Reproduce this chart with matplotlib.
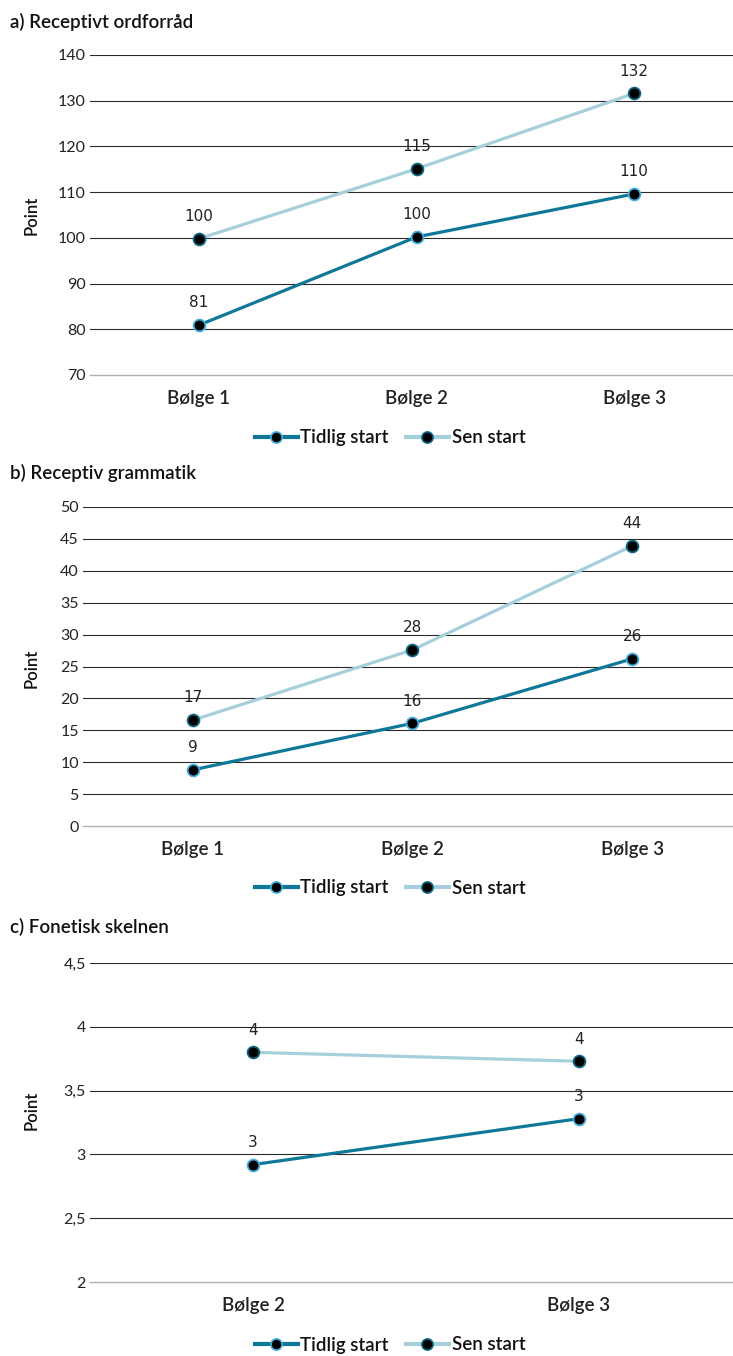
import matplotlib
matplotlib.use("Agg")
import matplotlib.pyplot as plt
from matplotlib.lines import Line2D

# ---- data ----
cats_a = ["Bølge 1", "Bølge 2", "Bølge 3"]
tidlig_a = [80.9, 100.2, 109.6]
sen_a = [99.8, 115.1, 131.6]

cats_b = ["Bølge 1", "Bølge 2", "Bølge 3"]
tidlig_b = [8.8, 16.1, 26.2]
sen_b = [16.6, 27.6, 43.9]

cats_c = ["Bølge 2", "Bølge 3"]
tidlig_c = [2.92, 3.28]
sen_c = [3.80, 3.73]

titles = ["a) Receptivt ordforråd", "b) Receptiv grammatik", "c) Fonetisk skelnen"]
series_names = ["Tidlig start", "Sen start"]
yticks_a = [70, 80, 90, 100, 110, 120, 130, 140]
yticks_b = [0, 5, 10, 15, 20, 25, 30, 35, 40, 45, 50]
yticks_c = [2, 2.5, 3, 3.5, 4, 4.5]
ytl_c = ["2", "2,5", "3", "3,5", "4", "4,5"]

C_TIDLIG = "#0f7898"
C_SEN = "#a6cfdc"
EDGE_T = "#45aee0"
EDGE_S = "#0d6784"

W, H = 733, 1356
fig = plt.figure(figsize=(W / 100, H / 100), dpi=100)

TITLE_FONT = ["Lato", "DejaVu Sans"]
WT = "semibold"


def px_axes(left, right, top, bottom):
    return fig.add_axes([left / W, 1 - bottom / H, (right - left) / W, (bottom - top) / H])


def panel(ax, cats, t, s, yticks, ytl, title, title_y, ylab_y, leg_y):
    x = list(range(len(cats)))
    ax.plot(x, t, color=C_TIDLIG, lw=2.3, marker="o", ms=8.5, mfc="black",
            mec=EDGE_T, mew=1.3, zorder=4, solid_capstyle="round")
    ax.plot(x, s, color=C_SEN, lw=2.3, marker="o", ms=8.5, mfc="black",
            mec=EDGE_S, mew=1.3, zorder=4, solid_capstyle="round")
    for xi, v in zip(x, t):
        ax.annotate(f"{round(v)}", (xi, v), xytext=(0, 16), textcoords="offset points",
                    ha="center", va="center", fontsize=11, color="#222222",
                    family=["DejaVu Sans"], zorder=5)
    for xi, v in zip(x, s):
        ax.annotate(f"{round(v)}", (xi, v), xytext=(0, 16), textcoords="offset points",
                    ha="center", va="center", fontsize=11, color="#222222",
                    family=["DejaVu Sans"], zorder=5)
    ax.set_xlim(-0.5, len(cats) - 0.5)
    ax.set_ylim(yticks[0], yticks[-1])
    ax.set_yticks(yticks)
    ax.set_yticklabels(ytl, fontsize=11.5, family=["Lato", "DejaVu Sans"], color="#222222")
    ax.set_xticks(x)
    ax.set_xticklabels(cats, fontsize=13.5, family=TITLE_FONT,
                       fontweight=WT, color="#222222")
    ax.tick_params(axis="y", length=0, pad=3)
    ax.tick_params(axis="x", length=0, pad=11)
    for sp in ["top", "right", "left"]:
        ax.spines[sp].set_visible(False)
    ax.spines["bottom"].set_color("#b0b0b0")
    ax.spines["bottom"].set_linewidth(1.0)
    for yv in yticks[1:]:
        ax.axhline(yv, color="#2a2a2a", lw=0.8, zorder=1)
    ax.set_facecolor("none")

    fig.text(10 / W, 1 - title_y / H, title, fontsize=13.5, fontweight=WT,
             family=TITLE_FONT, ha="left", va="center", color="#111111")
    fig.text(32 / W, 1 - ylab_y / H, "Point", fontsize=12, fontweight=WT,
             family=TITLE_FONT, rotation=90, ha="center", va="center", color="#111111")

    handles = [
        Line2D([0], [0], color=C_TIDLIG, lw=3, marker="o", ms=8, mfc="black", mec=EDGE_T, mew=1.2),
        Line2D([0], [0], color=C_SEN, lw=3, marker="o", ms=8, mfc="black", mec=EDGE_S, mew=1.2),
    ]
    leg = fig.legend(handles, series_names, loc="center", bbox_to_anchor=(390 / W, 1 - leg_y / H),
                     ncol=2, frameon=False, handlelength=2.3, handletextpad=0.15,
                     columnspacing=0.9, prop={"family": TITLE_FONT, "size": 13.5, "weight": WT})
    for txt in leg.get_texts():
        txt.set_color("#111111")


ax_a = px_axes(90, 743, 55, 375)
panel(ax_a, cats_a, tidlig_a, sen_a, yticks_a, [str(v) for v in yticks_a],
      titles[0], 22, 215, 438)

ax_b = px_axes(83, 742, 507, 826)
panel(ax_b, cats_b, tidlig_b, sen_b, yticks_b, [str(v) for v in yticks_b],
      titles[1], 473, 668, 888)

ax_c = px_axes(90, 742, 963, 1282)
panel(ax_c, cats_c, tidlig_c, sen_c, yticks_c, ytl_c,
      titles[2], 927, 1110, 1345)

fig.savefig("out.png", dpi=100, facecolor="white")
